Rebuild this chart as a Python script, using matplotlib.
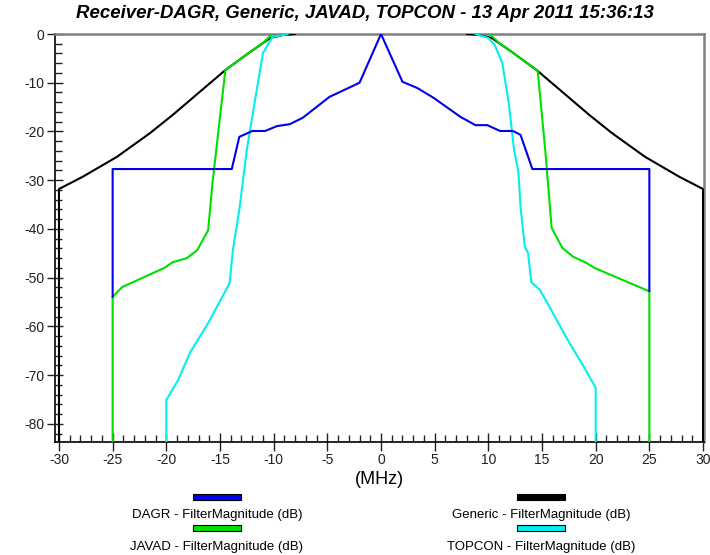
import matplotlib
matplotlib.use('Agg')
import matplotlib.pyplot as plt
from matplotlib.patches import Rectangle
from matplotlib.ticker import MultipleLocator
import numpy as np

plt.rcParams['font.family'] = ['Liberation Sans', 'DejaVu Sans']
plt.rcParams['axes.unicode_minus'] = False

title = 'Receiver-DAGR, Generic, JAVAD, TOPCON - 13 Apr 2011 15:36:13'

# frequency offsets (MHz) and filter magnitude (dB)
dagr_x = [-25, -25, -13.9, -13.2, -12.0, -10.8, -9.7, -8.5, -7.3, -4.8, -2.0, 0,
          2.0, 3.4, 4.9, 7.4, 8.8, 9.9, 11.1, 12.3, 13.0, 14.1, 25, 25]
dagr_y = [-53.9, -27.7, -27.7, -21.1, -19.9, -19.9, -18.9, -18.5, -17.2, -12.9, -10.0, 0,
          -9.8, -11.1, -13.1, -17.0, -18.7, -18.7, -19.9, -19.9, -20.7, -27.7, -27.7, -52.7]

generic_x = [-30, -30, -27.8, -24.6, -21.5, -19.4, -16.9, -14.5, -12.2, -10.3, -9.1, -8.0,
             np.nan,
             8.0, 9.1, 10.3, 12.2, 14.5, 16.9, 19.4, 21.5, 24.6, 27.8, 30, 30]
generic_y = [-90, -31.8, -29.3, -25.2, -20.3, -16.6, -11.9, -7.4, -3.7, -0.8, -0.2, 0,
             np.nan,
             0, -0.2, -0.8, -3.7, -7.4, -11.9, -16.6, -20.3, -25.2, -29.3, -31.8, -90]

javad_x = [-25, -25, -24.1, -22.2, -20.2, -19.4, -18.1, -17.1, -16.1, -15.7, -14.5, -13.2, -11.0, -10.2,
           np.nan,
           10.2, 11.0, 13.2, 14.6, 15.3, 15.9, 16.9, 17.9, 19.0, 19.9, 23.2, 24.9, 25, 25]
javad_y = [-90, -53.9, -51.9, -50.0, -48.0, -46.8, -46.0, -44.3, -40.2, -30.6, -7.4, -5.3, -1.8, -0.2,
           np.nan,
           -0.2, -1.8, -5.3, -7.6, -23.8, -39.8, -43.9, -45.7, -46.8, -48.0, -51.1, -52.7, -52.7, -90]

topcon_x = [-20, -20, -18.9, -17.8, -16.1, -14.1, -13.8, -13.2, -12.5, -12.2, -11.0, -10.1, -9.1, -8.7,
            np.nan,
            8.8, 10.0, 10.6, 11.3, 11.9, 12.4, 12.8, 13.0, 13.4, 13.7, 14.0, 14.8, 15.5, 17.4, 18.9, 20.0, 20.0]
topcon_y = [-90, -75.1, -71.0, -65.4, -59.3, -51.1, -44.3, -36.1, -23.8, -19.7, -3.9, -0.6, -0.2, 0,
            np.nan,
            0, -0.8, -2.3, -5.9, -14.2, -23.8, -28.3, -35.5, -43.7, -44.9, -50.9, -52.5, -55.2, -62.8, -68.3, -72.6, -90]

names = ['DAGR', 'Generic', 'JAVAD', 'TOPCON']
colors = {'DAGR': '#0000ee', 'Generic': '#000000', 'JAVAD': '#00e000', 'TOPCON': '#00f0f0'}

fig = plt.figure(figsize=(7.1, 5.55), dpi=100)
ax = fig.add_axes([55 / 710, 1 - 442 / 555, 649 / 710, 408 / 555])

ax.plot(generic_x, generic_y, color=colors['Generic'], lw=1.5, zorder=3)
ax.plot(javad_x, javad_y, color=colors['JAVAD'], lw=1.5, zorder=3)
ax.plot(topcon_x, topcon_y, color=colors['TOPCON'], lw=1.5, zorder=3)
ax.plot(dagr_x, dagr_y, color=colors['DAGR'], lw=1.5, zorder=3)

ax.set_xlim(-30.37, 30.09)
ax.set_ylim(-83.7, 0)

ax.xaxis.set_major_locator(MultipleLocator(5))
ax.xaxis.set_minor_locator(MultipleLocator(1))
ax.yaxis.set_major_locator(MultipleLocator(10))
ax.yaxis.set_minor_locator(MultipleLocator(2))

ax.tick_params(axis='x', which='major', direction='inout', length=13.5, width=1, labelsize=10, pad=1, colors='#202020')
ax.tick_params(axis='x', which='minor', direction='in', length=5, width=1, colors='#202020')
ax.tick_params(axis='y', which='major', direction='inout', length=11.5, width=1, labelsize=10, pad=2, colors='#202020')
ax.tick_params(axis='y', which='minor', direction='in', length=5, width=1, colors='#202020')

for side in ['left', 'bottom']:
    ax.spines[side].set_color('black')
    ax.spines[side].set_linewidth(1.2)
for side in ['top', 'right']:
    ax.spines[side].set_color('#808080')
    ax.spines[side].set_linewidth(1.8)

ax.set_xlabel('(MHz)', fontsize=13, labelpad=3)

fig.text(365 / 710, 1 - 14 / 555, title, ha='center', va='center',
         fontsize=13.4, fontweight='bold', fontstyle='italic')

# legend: colored bar above each label, two columns
leg_pos = {'DAGR': (217, 497, 515), 'Generic': (541, 497, 515),
           'JAVAD': (217, 528, 547), 'TOPCON': (541, 528, 547)}
for name in names:
    cx, by, ty = leg_pos[name]
    fig.patches.append(Rectangle(((cx - 24) / 710, 1 - (by + 3) / 555), 48 / 710, 6 / 555,
                                 transform=fig.transFigure, facecolor=colors[name],
                                 edgecolor='black', lw=0.8))
    fig.text(cx / 710, 1 - ty / 555, name + ' - FilterMagnitude (dB)',
             ha='center', va='center', fontsize=9.5)

plt.savefig('out.png', dpi=100)
